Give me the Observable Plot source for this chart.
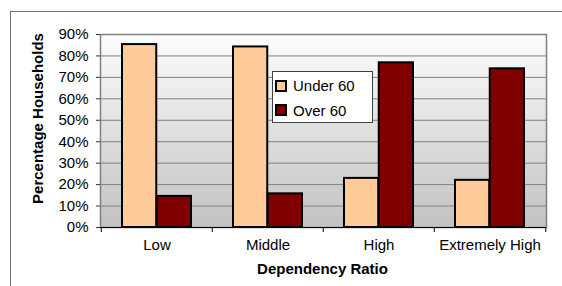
<!DOCTYPE html>
<html>
<head>
<meta charset="utf-8">
<script src="https://cdn.jsdelivr.net/npm/d3@7"></script>
<script src="https://cdn.jsdelivr.net/npm/@observablehq/plot@0.6"></script>
<style>
  body { margin: 0; background: #fff; font-family: "Liberation Sans", Arial, sans-serif; }
  #wrap { position: relative; width: 562px; height: 286px; overflow: hidden; }
  #outer { position: absolute; left: 10px; top: 11px; width: 620px; height: 320px;
           border-left: 1.5px solid #707070; border-top: 1.5px solid #707070; }
  #chart { position: absolute; left: 0; top: 0; }
  #legend { position: absolute; left: 272px; top: 71px; width: 101px; height: 52px; box-sizing: border-box;
            background: #fff; border: 1px solid #404040; font-size: 15px; color: #000; }
  .item { position: absolute; left: 2px; height: 13px; display: flex; align-items: center; white-space: nowrap; }
  .sw { width: 12px; height: 12px; box-sizing: border-box; border: 2px solid #000; margin-right: 6px; }
</style>
</head>
<body>
<div id="wrap">
  <div id="outer"></div>
  <div id="chart"></div>
  <div id="legend"></div>
</div>
<script>
const categories = ["Low", "Middle", "High", "Extremely High"];
const seriesNames = ["Under 60", "Over 60"];
const under60 = [85.3, 84.2, 22.9, 22.0];
const over60 = [14.5, 15.7, 76.8, 74.0];
const seriesColors = ["#FFCC99", "#800000"];
const yTicks = [0, 10, 20, 30, 40, 50, 60, 70, 80, 90];
const xTitle = "Dependency Ratio";
const yTitle = "Percentage Households";

const rowsUnder = categories.map((c, i) => ({category: c, series: seriesNames[0], value: under60[i]}));
const rowsOver = categories.map((c, i) => ({category: c, series: seriesNames[1], value: over60[i]}));

const W = 562, H = 286, mL = 100, mR = 16, mT = 34, mB = 59;
const band = (W - mL - mR) / categories.length;
const outerPad = 21;
const barW = (band - 2 * outerPad) / 2;
const FONT = '"Liberation Sans", Arial, sans-serif';

const chart = Plot.plot({
  width: W, height: H,
  marginLeft: mL, marginRight: mR, marginTop: mT, marginBottom: mB,
  style: {fontFamily: FONT, fontSize: "15px", color: "#000", background: "transparent", overflow: "visible"},
  x: {domain: categories, padding: 0, axis: null, label: null},
  y: {domain: [0, 90], axis: null, label: null},
  marks: [
    Plot.frame({fill: "url(#plotbg)", stroke: "none"}),
    Plot.gridY(yTicks.filter(t => t > 0 && t < 90), {stroke: "#808080", strokeOpacity: 1, strokeWidth: 1}),
    Plot.frame({stroke: "#808080", strokeWidth: 1.5, fill: "none"}),
    Plot.barY(rowsUnder, {x: "category", y: "value", fill: seriesColors[0], stroke: "#000", strokeWidth: 2,
      insetLeft: outerPad, insetRight: outerPad + barW}),
    Plot.barY(rowsOver, {x: "category", y: "value", fill: seriesColors[1], stroke: "#000", strokeWidth: 2,
      insetLeft: outerPad + barW, insetRight: outerPad}),
    Plot.ruleY([0], {stroke: "#000", strokeWidth: 1}),
    Plot.axisY({ticks: yTicks, tickFormat: d => d + "%", tickSize: 4, tickPadding: 8, fontSize: 15, line: true, stroke: "#333", label: null}),
    Plot.axisX({tickSize: 5, dx: -band / 2, stroke: "#000", tickFormat: () => "", label: null}),
    Plot.axisX([categories[categories.length - 1]], {tickSize: 5, dx: band / 2, stroke: "#000", tickFormat: () => "", label: null}),
    Plot.axisX({tickSize: 0, tickPadding: 12, fontSize: 15, label: null}),
    Plot.text([yTitle], {text: d => d, frameAnchor: "left", textAnchor: "middle", lineAnchor: "middle",
      rotate: -90, dx: -62, dy: -12.5, fontWeight: "bold", fontSize: 15}),
    Plot.text([xTitle], {text: d => d, frameAnchor: "bottom", textAnchor: "middle", lineAnchor: "middle",
      dx: -1, dy: 42, fontWeight: "bold", fontSize: 15})
  ]
});

const defs = d3.select(chart).insert("defs", ":first-child");
const grad = defs.append("linearGradient").attr("id", "plotbg").attr("x1", 0).attr("y1", 0).attr("x2", 0).attr("y2", 1);
grad.append("stop").attr("offset", "0%").attr("stop-color", "#fdfdfd");
grad.append("stop").attr("offset", "100%").attr("stop-color", "#c2c2c2");

document.getElementById("chart").appendChild(chart);

const legend = document.getElementById("legend");
seriesNames.forEach((name, i) => {
  const item = document.createElement("div");
  item.className = "item";
  item.style.top = (7 + i * 24.5) + "px";
  const sw = document.createElement("div");
  sw.className = "sw";
  sw.style.background = seriesColors[i];
  const label = document.createElement("span");
  label.textContent = name;
  item.appendChild(sw);
  item.appendChild(label);
  legend.appendChild(item);
});
</script>
</body>
</html>
